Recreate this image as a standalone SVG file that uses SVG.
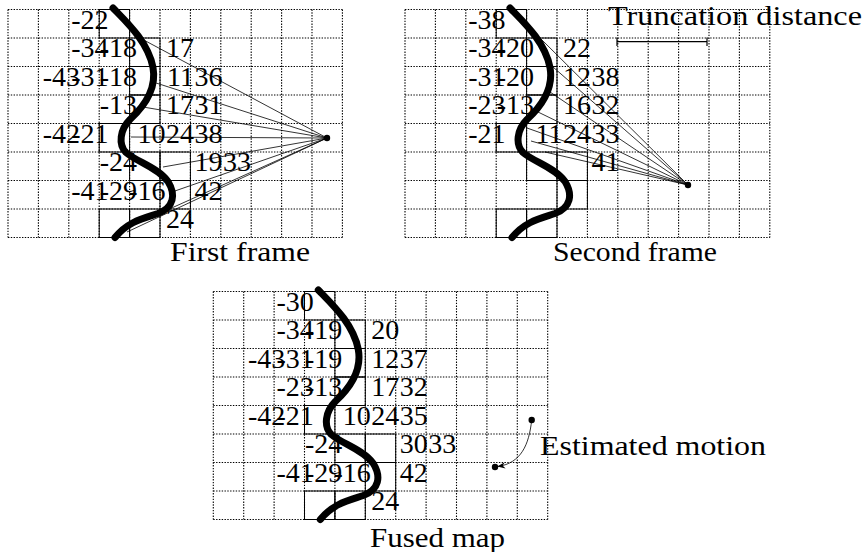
<svg xmlns="http://www.w3.org/2000/svg" xmlns:xlink="http://www.w3.org/1999/xlink" width="864" height="552" viewBox="0 0 864 552">
<style>
.grid{fill:none;stroke:#000;stroke-width:1.1;stroke-dasharray:1.4 1.4}
.box{fill:none;stroke:#000;stroke-width:1}
.surf{fill:none;stroke:#000;stroke-width:7;stroke-linecap:round;stroke-linejoin:round}
.ray{fill:none;stroke:#000;stroke-width:0.8}
.num{font-family:'Liberation Serif','DejaVu Serif',serif;font-size:28px;fill:#000;text-anchor:end}
.lbl{font-family:'Liberation Serif','DejaVu Serif',serif;font-size:28px;fill:#000}
</style>
<defs>
<path id="grid11" class="grid" d="M0,0V228M30.4,0V228M60.8,0V228M91.2,0V228M121.6,0V228M152,0V228M182.4,0V228M212.8,0V228M243.2,0V228M273.6,0V228M304,0V228M334.4,0V228M0,0H334.4M0,28.5H334.4M0,57H334.4M0,85.5H334.4M0,114H334.4M0,142.5H334.4M0,171H334.4M0,199.5H334.4M0,228H334.4"/>
<path id="grid12" class="grid" d="M0,0V228M30.4,0V228M60.8,0V228M91.2,0V228M121.6,0V228M152,0V228M182.4,0V228M212.8,0V228M243.2,0V228M273.6,0V228M304,0V228M334.4,0V228M364.8,0V228M0,0H364.8M0,28.5H364.8M0,57H364.8M0,85.5H364.8M0,114H364.8M0,142.5H364.8M0,171H364.8M0,199.5H364.8M0,228H364.8"/>
<g id="boxes" class="box">
<rect x="91.2" y="0" width="30.4" height="28.5"/>
<rect x="121.6" y="28.5" width="30.4" height="28.5"/>
<rect x="121.6" y="57" width="30.4" height="28.5"/>
<rect x="121.6" y="85.5" width="30.4" height="28.5"/>
<rect x="91.2" y="114" width="30.4" height="28.5"/>
<rect x="121.6" y="142.5" width="30.4" height="28.5"/>
<rect x="152" y="142.5" width="30.4" height="28.5"/>
<rect x="152" y="171" width="30.4" height="28.5"/>
<rect x="91.2" y="199.5" width="30.4" height="28.5"/>
<rect x="121.6" y="199.5" width="30.4" height="28.5"/>
</g>
<path id="surface" class="surf" d="M105,-1.5 C118,12 140,32 145,58 C149,80 135,98 122,110 C112,120 110,135 118,143 C128,152 150,158 160,172 C168,185 166,198 150,204 C135,209 120,212 107,228"/>
<marker id="arr" viewBox="0 0 10 10" refX="9" refY="5" markerWidth="8" markerHeight="8" orient="auto-start-reverse" markerUnits="userSpaceOnUse">
<path d="M0,1 L10,5 L0,9 L3,5 Z" fill="#000"/>
</marker>
</defs>

<g id="frame1" transform="translate(8,9.5)">
<use xlink:href="#grid11"/>
<use xlink:href="#boxes"/>
<g class="num" font-family="Liberation Serif, DejaVu Serif, serif">
<text x="100.5" y="19">-22</text>
<text x="100.5" y="47.6">-34</text><text x="129" y="47.6">-18</text><text x="186" y="47.6">17</text>
<text x="72" y="76.1">-43</text><text x="100.5" y="76.1">-31</text><text x="129" y="76.1">-18</text><text x="186" y="76.1">11</text><text x="214.5" y="76.1">36</text>
<text x="129" y="104.7">-13</text><text x="186" y="104.7">17</text><text x="214.5" y="104.7">31</text>
<text x="72" y="133.2">-42</text><text x="100.5" y="133.2">-21</text><text x="157.5" y="133.2">10</text><text x="186" y="133.2">24</text><text x="214.5" y="133.2">38</text>
<text x="129" y="161.8">-24</text><text x="214.5" y="161.8">19</text><text x="243" y="161.8">33</text>
<text x="100.5" y="190.3">-41</text><text x="129" y="190.3">-29</text><text x="157.5" y="190.3">-16</text><text x="214.5" y="190.3">42</text>
<text x="186" y="218.9">24</text>
</g>
</g>

<g id="frame2" transform="translate(405,9.5)">
<use xlink:href="#grid12"/>
<use xlink:href="#boxes"/>
<g class="num" font-family="Liberation Serif, DejaVu Serif, serif">
<text x="100.5" y="19">-38</text>
<text x="100.5" y="47.6">-34</text><text x="129" y="47.6">-20</text><text x="186" y="47.6">22</text>
<text x="100.5" y="76.1">-31</text><text x="129" y="76.1">-20</text><text x="186" y="76.1">12</text><text x="214.5" y="76.1">38</text>
<text x="100.5" y="104.7">-23</text><text x="129" y="104.7">-13</text><text x="186" y="104.7">16</text><text x="214.5" y="104.7">32</text>
<text x="100.5" y="133.2">-21</text><text x="157.5" y="133.2">11</text><text x="186" y="133.2">24</text><text x="214.5" y="133.2">33</text>
<text x="214.5" y="161.8">41</text>
</g>
</g>

<g id="fused" transform="translate(213.3,291.5)">
<use xlink:href="#grid11"/>
<use xlink:href="#boxes"/>
<g class="num" font-family="Liberation Serif, DejaVu Serif, serif">
<text x="100.5" y="19">-30</text>
<text x="100.5" y="47.6">-34</text><text x="129" y="47.6">-19</text><text x="186" y="47.6">20</text>
<text x="72" y="76.1">-43</text><text x="100.5" y="76.1">-31</text><text x="129" y="76.1">-19</text><text x="186" y="76.1">12</text><text x="214.5" y="76.1">37</text>
<text x="100.5" y="104.7">-23</text><text x="129" y="104.7">-13</text><text x="186" y="104.7">17</text><text x="214.5" y="104.7">32</text>
<text x="72" y="133.2">-42</text><text x="100.5" y="133.2">-21</text><text x="157.5" y="133.2">10</text><text x="186" y="133.2">24</text><text x="214.5" y="133.2">35</text>
<text x="129" y="161.8">-24</text><text x="214.5" y="161.8">30</text><text x="243" y="161.8">33</text>
<text x="100.5" y="190.3">-41</text><text x="129" y="190.3">-29</text><text x="157.5" y="190.3">-16</text><text x="214.5" y="190.3">42</text>
<text x="186" y="218.9">24</text>
</g>
</g>

<g id="connectors">
<g class="ray">
<path d="M327,138L140,38M327,138L153,82M327,138L143,107M327,138L131,137M327,138L163,167M327,138L172,192M327,138L165,211M327,138L127,232"/>
<path d="M688,185L540,38M688,185L553,67M688,185L550,92M688,185L538,112M688,185L527,128M688,185L531,141M688,185L545,152"/>
</g>
<path class="ray" d="M531.7,420 C529,445 521,463 498,466.5" stroke-width="1" marker-end="url(#arr)"/>
<path d="M617,41.7H707M617,37.5V46M707,37.5V46" fill="none" stroke="#000" stroke-width="1.2"/>
</g>

<use xlink:href="#surface" transform="translate(8,9.5)"/>
<use xlink:href="#surface" transform="translate(405,9.5)"/>
<use xlink:href="#surface" transform="translate(213.3,291.5)"/>

<g id="points" fill="#000">
<circle cx="327" cy="138" r="3.2"/>
<circle cx="688" cy="185" r="3.2"/>
<circle cx="531.7" cy="420" r="3.2"/>
<circle cx="495" cy="467" r="3.2"/>
</g>

<g id="labels" class="lbl" font-family="Liberation Serif, DejaVu Serif, serif">
<text x="170" y="261" textLength="140" lengthAdjust="spacingAndGlyphs">First frame</text>
<text x="553" y="261" textLength="164" lengthAdjust="spacingAndGlyphs">Second frame</text>
<text x="370" y="547" textLength="135" lengthAdjust="spacingAndGlyphs">Fused map</text>
<text x="608" y="25" textLength="254" lengthAdjust="spacingAndGlyphs">Truncation distance</text>
<text x="540" y="455" textLength="226" lengthAdjust="spacingAndGlyphs">Estimated motion</text>
</g>
</svg>
